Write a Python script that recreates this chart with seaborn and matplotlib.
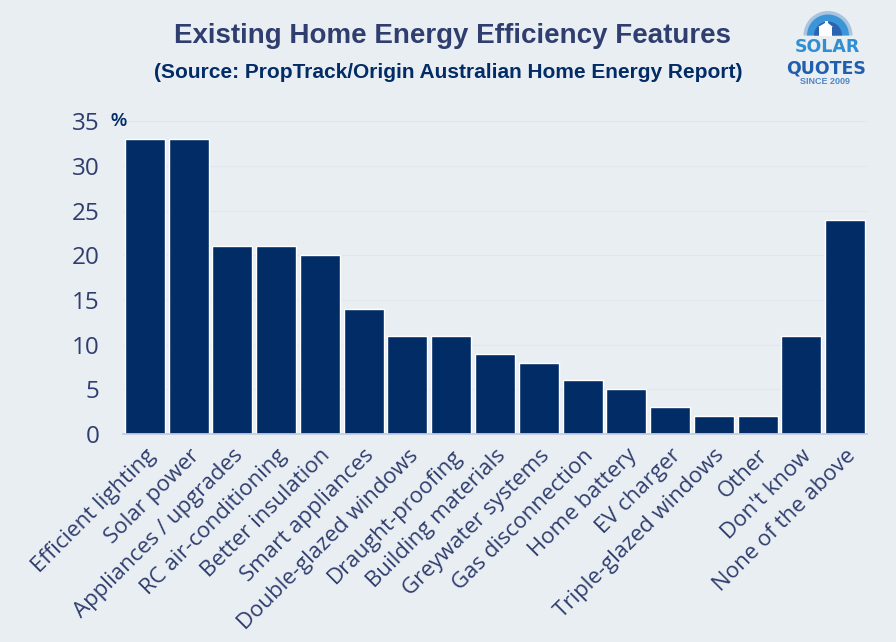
import matplotlib
matplotlib.use('Agg')
import matplotlib.pyplot as plt
import seaborn as sns
import pandas as pd
from matplotlib.patches import Wedge, Polygon, Rectangle

# Datos
features = ['Efficient lighting', 'Solar power', 'Appliances / upgrades', 'RC air-conditioning',
            'Better insulation', 'Smart appliances', 'Double-glazed windows', 'Draught-proofing',
            'Building materials', 'Greywater systems', 'Gas disconnection', 'Home battery',
            'EV charger', 'Triple-glazed windows', 'Other', "Don't know", 'None of the above']
features = features[:15] + features[15:]
values = [33, 33, 21, 21, 20, 14, 11, 11, 9, 8, 6, 5, 3, 2, 2, 11, 24]
y_ticks = [0, 5, 10, 15, 20, 25, 30, 35]

bg = '#e9eef3'
navy = '#022c66'
text_col = '#2f3e6e'

W, H = 896, 642
sns.set_theme(style='white')
plt.rcParams['font.family'] = ['Open Sans', 'DejaVu Sans']

data = pd.DataFrame({'feature': features, 'value': values})

fig = plt.figure(figsize=(W / 100, H / 100), dpi=100, facecolor=bg)
ax = fig.add_axes([123 / W, 1 - 434 / H, 744 / W, (434 - 121.4) / H], facecolor=bg)

sns.barplot(x='feature', y='value', data=data, color=navy, width=0.913, saturation=1, ax=ax)

ax.set_xlim(-0.5, len(features) - 0.5)
ax.set_ylim(0, 35)
ax.set_yticks(y_ticks)
ax.set_xlabel('')
ax.set_ylabel('')
ax.grid(axis='y', color='#e1e6ee', linewidth=0.8)
ax.set_axisbelow(True)
sns.despine(ax=ax, left=True, top=True, right=True, bottom=False)
ax.spines['bottom'].set_color('#c3cbdc')
ax.tick_params(axis='y', length=0, pad=17, labelsize=17.5, labelcolor=text_col)
ax.tick_params(axis='x', length=0, pad=8, labelsize=16, labelcolor=text_col)
plt.setp(ax.get_xticklabels(), rotation=45, ha='right', rotation_mode='anchor')

# Titulos
fig.text(452 / W, 1 - 36 / H, 'Existing Home Energy Efficiency Features', ha='center', va='center',
         fontsize=20, fontweight='bold', color=text_col, family='Liberation Sans')
fig.text(448 / W, 1 - 73 / H, '(Source: PropTrack/Origin Australian Home Energy Report)', ha='center', va='center',
         fontsize=15, fontweight='bold', color=navy, family='Liberation Sans')
fig.text(119 / W, 1 - 122 / H, '%', ha='center', va='center', fontsize=13, fontweight='bold',
         color=navy, family='Liberation Sans')

# Logo
logo = fig.add_axes([0, 0, 1, 1], facecolor='none')
logo.set_xlim(0, W)
logo.set_ylim(H, 0)
logo.axis('off')
for r, c in [(24.5, '#a9c4de'), (21, '#3c95d6'), (14, '#2a63b0')]:
    logo.add_patch(Wedge((828, 35.5), r, 180, 360, color=c, lw=0))
logo.add_patch(Polygon([(818, 27), (825, 23), (825, 21), (828, 21), (828, 23), (833, 27), (832, 27), (832, 36), (819, 36), (819, 27)],
                       color='white', lw=0))
logo.text(827.5, 47, 'SOLAR', ha='center', va='center', fontsize=12.5, fontweight='bold', color='#2f8fd2',
          family='Liberation Sans Narrow')
logo.text(826, 68, 'QUOTES', ha='center', va='center', fontsize=12.5, fontweight='bold', color='#1f5fae',
          family='Liberation Sans Narrow')
logo.text(825, 81, 'SINCE 2009', ha='center', va='center', fontsize=6.5, fontweight='bold', color='#4d86c6',
          family='Liberation Sans')

fig.savefig('out.png', dpi=100, facecolor=bg)
